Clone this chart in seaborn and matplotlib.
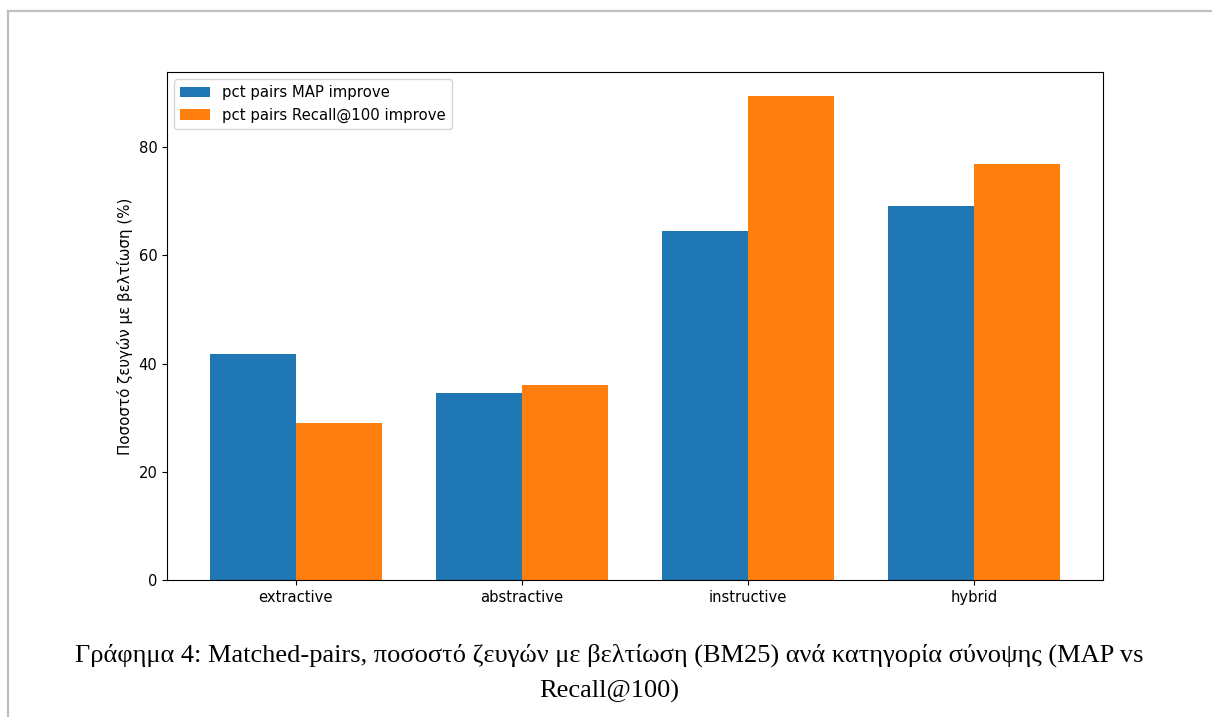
import pandas as pd
import matplotlib.pyplot as plt
from matplotlib.lines import Line2D
import seaborn as sns

# --- data ---
categories = ['extractive', 'abstractive', 'instructive', 'hybrid']
map_improve = [41.7, 34.6, 64.5, 69.1]
recall_improve = [29.1, 36.0, 89.4, 76.8]
series_names = ['pct pairs MAP improve', 'pct pairs Recall@100 improve']

df = pd.DataFrame({
    'category': categories * 2,
    'value': map_improve + recall_improve,
    'metric': [series_names[0]] * 4 + [series_names[1]] * 4,
})

fig = plt.figure(figsize=(12.12, 7.17), dpi=100)
ax = fig.add_axes([0.1378, 0.1911, 0.7723, 0.7085])

sns.barplot(data=df, x='category', y='value', hue='metric', order=categories,
            hue_order=series_names, palette=['#1f77b4', '#ff7f0e'],
            saturation=1, width=0.76, ax=ax)

ax.set_xlim(-0.568, 3.568)
ax.set_ylim(0, 93.9)
ax.set_xlabel('')
ax.set_ylabel('Ποσοστό ζευγών με βελτίωση (%)', fontsize=10.8)
ax.tick_params(labelsize=10.6)

handles, labels = ax.get_legend_handles_labels()
ax.legend(handles, labels, loc='upper left', fontsize=10.7, title=None)

# caption below the chart
cap_font = 'Liberation Serif'
fig.text(0.503, 0.086, 'Γράφημα 4: Matched-pairs, ποσοστό ζευγών με βελτίωση (BM25) ανά κατηγορία σύνοψης (MAP vs',
         ha='center', va='center', fontsize=19, family=cap_font)
fig.text(0.503, 0.036, 'Recall@100)', ha='center', va='center', fontsize=19, family=cap_font)

# page border (top and left edges)
fig.add_artist(Line2D([8 / 1212, 1.0], [1 - 11 / 717, 1 - 11 / 717], color='#c0c0c0', lw=1.6))
fig.add_artist(Line2D([8 / 1212, 8 / 1212], [0, 1 - 11 / 717], color='#c0c0c0', lw=1.6))

plt.savefig('out.png', dpi=100)
plt.close()
